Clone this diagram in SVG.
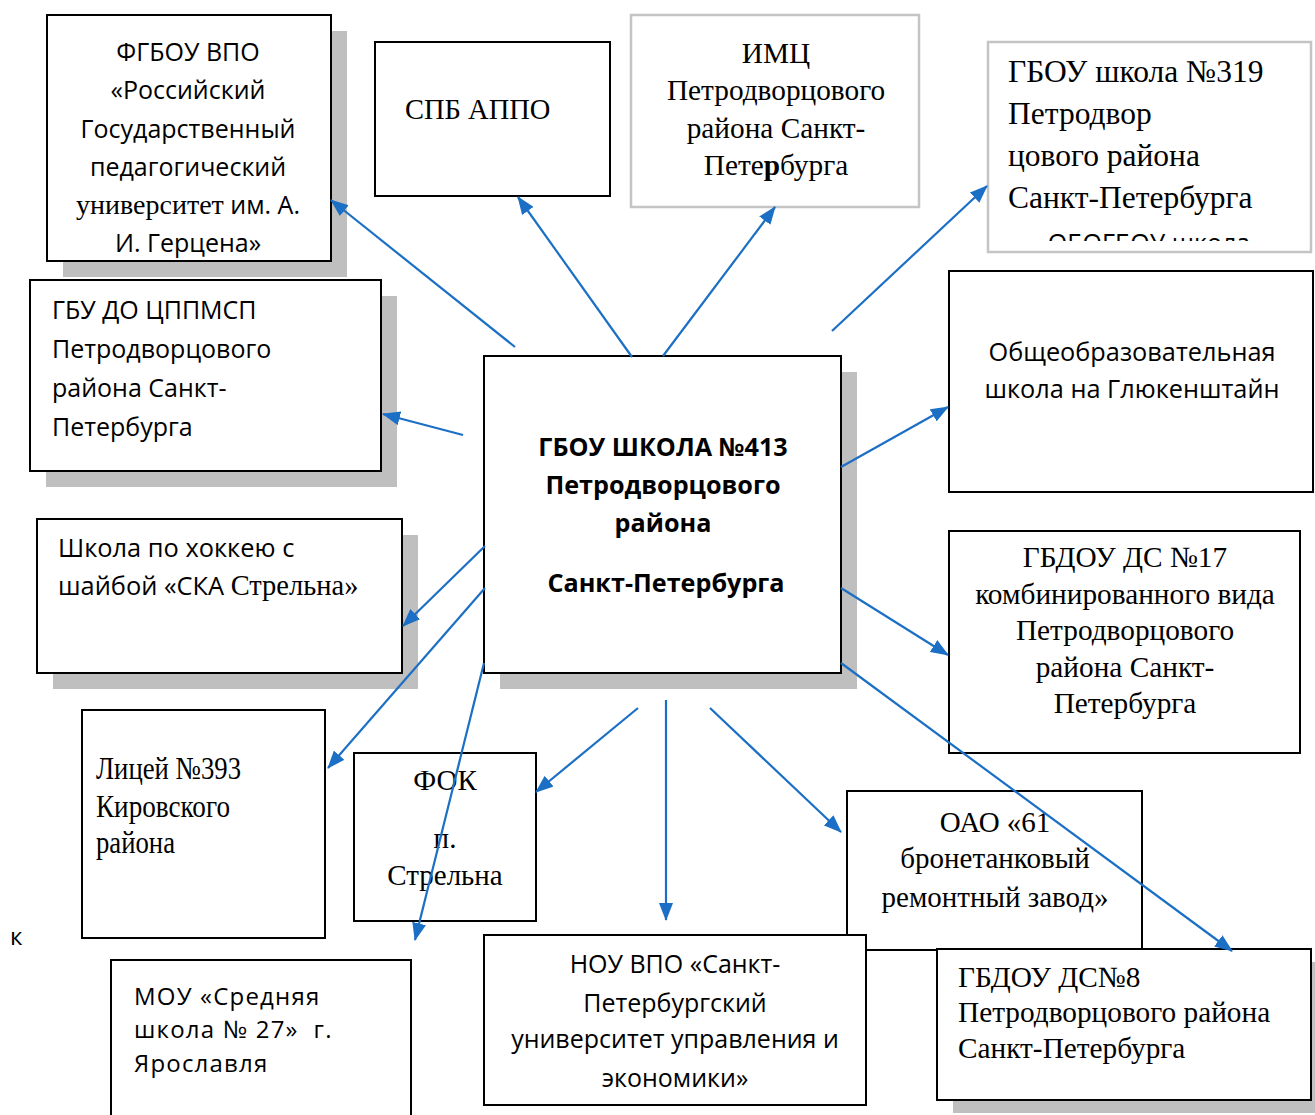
<svg xmlns="http://www.w3.org/2000/svg" width="1315" height="1115" viewBox="0 0 1315 1115">
<defs>
<marker id="ah" markerUnits="userSpaceOnUse" markerWidth="18" markerHeight="14" refX="17" refY="7" orient="auto">
<path d="M0,0 L18,7 L0,14 z" fill="#1B6FC4"/>
</marker>
<clipPath id="clip319"><rect x="988" y="42" width="323" height="199"/></clipPath>
</defs>
<style>
.box{fill:#fff;stroke:#000;stroke-width:2}
.gbox{fill:#fff;stroke:#c4c4c4;stroke-width:2.5}
.sh{fill:#bfbfbf}
.s{font-family:"Open Sans","Noto Sans","DejaVu Sans",sans-serif;fill:#000}
.r{font-family:"Liberation Serif","Times New Roman",serif;fill:#000}
.c{text-anchor:middle}
.b{font-weight:bold}
.con path,.con line{stroke:#1B6FC4;stroke-width:2.2;fill:none;marker-end:url(#ah)}
</style>
<rect width="1315" height="1115" fill="#fff"/>

<g id="n_fgbou">
<rect class="sh" x="63" y="31" width="284" height="246"/>
<rect class="box" x="47" y="15" width="284" height="246"/>
<text class="s c" font-size="25" x="188"><tspan x="188" y="61">ФГБОУ ВПО</tspan><tspan x="188" y="99">«Российский</tspan><tspan x="188" y="138">Государственный</tspan><tspan x="188" y="176">педагогический</tspan><tspan x="188" y="214"><tspan class="r" font-size="28">университет</tspan> им. А.</tspan><tspan x="188" y="252">И. Герцена»</tspan></text>
</g>

<g id="n_spb">
<rect class="box" x="375" y="42" width="235" height="154"/>
<text class="r" font-size="28.5" x="405" y="119">СПБ АППО</text>
</g>

<g id="n_imc">
<rect class="gbox" x="631" y="15" width="288" height="192"/>
<text class="r c" font-size="29.3"><tspan x="776" y="63">ИМЦ</tspan><tspan x="776" y="100">Петродворцового</tspan><tspan x="776" y="138">района Санкт-</tspan><tspan x="776" y="175">Пете<tspan font-weight="bold">р</tspan>бурга</tspan></text>
</g>

<g id="n_319">
<rect class="gbox" x="988" y="42" width="323" height="210"/>
<text class="r" font-size="31.5"><tspan x="1008" y="82">ГБОУ школа №319</tspan><tspan x="1008" y="124">Петродвор</tspan><tspan x="1008" y="166">цового района</tspan><tspan x="1008" y="208">Санкт-Петербурга</tspan></text>
<text class="s c" font-size="25" x="1149" y="252" clip-path="url(#clip319)">ОБОГБОУ школа</text>
</g>

<g id="n_gbu">
<rect class="sh" x="46" y="296" width="351" height="191"/>
<rect class="box" x="30" y="280" width="351" height="191"/>
<text class="s" font-size="25"><tspan x="52" y="319">ГБУ ДО ЦППМСП</tspan><tspan x="52" y="358">Петродворцового</tspan><tspan x="52" y="397">района Санкт-</tspan><tspan x="52" y="436">Петербурга</tspan></text>
</g>

<g id="n_hockey">
<rect class="sh" x="53" y="535" width="365" height="154"/>
<rect class="box" x="37" y="519" width="365" height="154"/>
<text class="s" font-size="25.4"><tspan x="58" y="557">Школа по хоккею с</tspan><tspan x="58" y="595">шайбой «СКА <tspan class="r" font-size="28.5">Стрельна»</tspan></tspan></text>
</g>

<g id="n_center">
<rect class="sh" x="500" y="372" width="357" height="317"/>
<rect class="box" x="484" y="356" width="357" height="317"/>
<text class="s c b" font-size="25.2"><tspan x="663" y="456">ГБОУ ШКОЛА №413</tspan><tspan x="663" y="494">Петродворцового</tspan><tspan x="663" y="532">района</tspan><tspan x="666" y="592">Санкт-Петербурга</tspan></text>
</g>

<g id="n_glu">
<rect class="box" x="949" y="271" width="364" height="221"/>
<text class="s c" font-size="25.3"><tspan x="1132" y="361">Общеобразовательная</tspan><tspan x="1132" y="398">школа на Глюкенштайн</tspan></text>
</g>

<g id="n_ds17">
<rect class="box" x="949" y="531" width="351" height="222"/>
<text class="r c" font-size="29.3"><tspan x="1125" y="567">ГБДОУ ДС №17</tspan><tspan x="1125" y="604">комбинированного вида</tspan><tspan x="1125" y="640">Петродворцового</tspan><tspan x="1125" y="677">района Санкт-</tspan><tspan x="1125" y="713">Петербурга</tspan></text>
</g>

<g id="n_licey">
<rect class="box" x="82" y="710" width="243" height="228"/>
<text class="r" font-size="32"><tspan x="96" y="779" textLength="145" lengthAdjust="spacingAndGlyphs">Лицей №393</tspan><tspan x="96" y="817" textLength="134" lengthAdjust="spacingAndGlyphs">Кировского</tspan><tspan x="96" y="853" textLength="79" lengthAdjust="spacingAndGlyphs">района</tspan></text>
</g>

<g id="n_fok">
<rect class="box" x="354" y="753" width="182" height="168"/>
<text class="r c" font-size="29"><tspan x="445" y="790">ФОК</tspan><tspan x="445" y="848">п.</tspan><tspan x="445" y="885">Стрельна</tspan></text>
</g>

<g id="n_mou">
<rect class="box" x="111" y="960" width="300" height="170"/>
<text class="s" font-size="24" letter-spacing="1.2"><tspan x="134" y="1005">МОУ «Средняя</tspan><tspan x="134" y="1038">школа № 27»&#160;&#160;г.</tspan><tspan x="134" y="1072">Ярославля</tspan></text>
</g>

<g id="n_k">
<text class="s" font-size="24" x="10" y="945">к</text>
</g>

<g id="n_oao">
<rect class="box" x="847" y="791" width="295" height="159"/>
<text class="r c" font-size="29"><tspan x="995" y="832">ОАО «61</tspan><tspan x="995" y="868">бронетанковый</tspan><tspan x="995" y="907">ремонтный завод»</tspan></text>
</g>

<g id="n_nou">
<rect class="box" x="484" y="935" width="382" height="170"/>
<text class="s c" font-size="25"><tspan x="675" y="973">НОУ ВПО «Санкт-</tspan><tspan x="675" y="1012">Петербургский</tspan><tspan x="675" y="1048">университет управления и</tspan><tspan x="675" y="1087">экономики»</tspan></text>
</g>

<g id="n_ds8">
<rect class="sh" x="953" y="962" width="374" height="151"/>
<rect class="box" x="937" y="949" width="374" height="151"/>
<text class="r" font-size="29.3"><tspan x="958" y="987">ГБДОУ ДС№8</tspan><tspan x="958" y="1022">Петродворцового района</tspan><tspan x="958" y="1058">Санкт-Петербурга</tspan></text>
</g>

<g id="connectors" class="con">
<line x1="515" y1="347" x2="331" y2="200"/>
<line x1="632" y1="357" x2="518" y2="197"/>
<line x1="663" y1="356" x2="775" y2="207"/>
<line x1="832" y1="331" x2="987" y2="186"/>
<line x1="463" y1="435" x2="383" y2="414"/>
<line x1="841" y1="467" x2="948" y2="407"/>
<line x1="841" y1="588" x2="948" y2="655"/>
<line x1="841" y1="663" x2="1232" y2="951"/>
<line x1="485" y1="546" x2="403" y2="626"/>
<line x1="485" y1="588" x2="328" y2="768"/>
<line x1="484" y1="663" x2="415" y2="940"/>
<line x1="638" y1="708" x2="536" y2="792"/>
<line x1="666" y1="700" x2="666" y2="920"/>
<line x1="710" y1="708" x2="841" y2="832"/>
</g>
</svg>
